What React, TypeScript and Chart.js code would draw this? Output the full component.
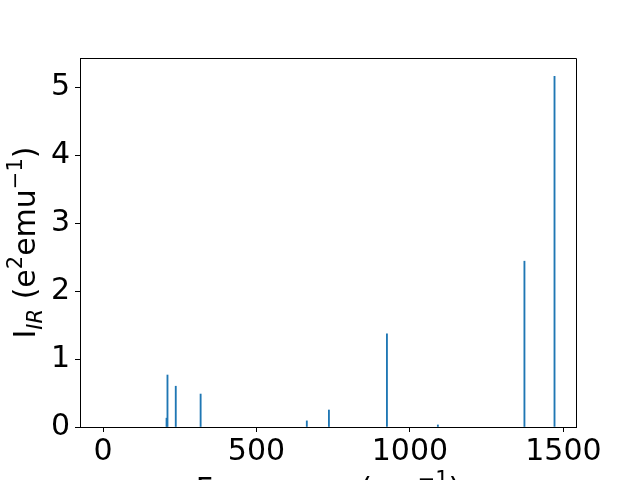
import React, { useEffect, useRef } from "react";
import { Chart, registerables } from "chart.js";
Chart.register(...registerables);

const frequencies = [207, 210, 237, 318, 664, 736, 925, 1091, 1373, 1471];
const intensities = [0.13, 0.765, 0.6, 0.485, 0.09, 0.25, 1.37, 0.03, 2.44, 5.16];
const xTicks = [0, 500, 1000, 1500];
const yTicks = [0, 1, 2, 3, 4, 5];
const xRange = [-75, 1541];
const yRange = [0, 5.43];

type Run = { text: string; pos: "n" | "sub" | "sup"; italic?: boolean };
const xLabelRuns: Run[] = [
  { text: "Frequency (cm", pos: "n" },
  { text: "\u22121", pos: "sup" },
  { text: ")", pos: "n" },
];
const yLabelRuns: Run[] = [
  { text: "I", pos: "n" },
  { text: "IR", pos: "sub", italic: true },
  { text: " (e", pos: "n" },
  { text: "2", pos: "sup" },
  { text: "emu", pos: "n" },
  { text: "\u22121", pos: "sup" },
  { text: ")", pos: "n" },
];

const FONT = '"DejaVu Sans", sans-serif';

function drawRuns(ctx: CanvasRenderingContext2D, runs: Run[], cx: number, cy: number, rot: number, size: number) {
  ctx.save();
  ctx.translate(cx, cy);
  ctx.rotate(rot);
  ctx.textBaseline = "alphabetic";
  ctx.textAlign = "left";
  ctx.fillStyle = "#000";
  const items = runs.map((r) => {
    const s = r.pos === "n" ? size : size * 0.7;
    const font = `${r.italic ? "italic " : ""}${s}px ${FONT}`;
    ctx.font = font;
    const w = ctx.measureText(r.text).width;
    const dy = r.pos === "sub" ? size * 0.22 : r.pos === "sup" ? -size * 0.42 : 0;
    return { font, w, dy, text: r.text };
  });
  const total = items.reduce((a, b) => a + b.w, 0);
  let x = -total / 2;
  for (const it of items) {
    ctx.font = it.font;
    ctx.fillText(it.text, x, it.dy);
    x += it.w;
  }
  ctx.restore();
}

const labelPlugin = {
  id: "axisLabels",
  afterDraw(chart: any) {
    const ctx = chart.ctx as CanvasRenderingContext2D;
    const a = chart.chartArea;
    drawRuns(ctx, xLabelRuns, (a.left + a.right) / 2, 499, 0, 30);
    drawRuns(ctx, yLabelRuns, 35, (a.top + a.bottom) / 2, -Math.PI / 2, 30);
  },
};

export default function App() {
  const ref = useRef<HTMLCanvasElement | null>(null);
  useEffect(() => {
    document.body.style.margin = "0";
    const canvas = ref.current!;
    const chart = new Chart(canvas, {
      type: "bar",
      data: {
        datasets: [
          {
            data: frequencies.map((f, i) => ({ x: f, y: intensities[i] })),
            backgroundColor: "#1f77b4",
            borderWidth: 0,
            barThickness: 1.2,
          },
        ],
      },
      options: {
        animation: false,
        responsive: false,
        devicePixelRatio: 1,
        layout: { padding: { top: 58, right: 64, left: 0, bottom: 0 } },
        plugins: { legend: { display: false }, tooltip: { enabled: false } },
        scales: {
          x: {
            type: "linear",
            min: xRange[0],
            max: xRange[1],
            offset: false,
            grid: { offset: false, drawOnChartArea: false, drawTicks: true, tickLength: 5, tickColor: "#000", tickWidth: 1 },
            border: { color: "#000", width: 1 },
            ticks: {
              color: "#000",
              font: { family: FONT, size: 30 },
              padding: 2,
              maxRotation: 0,
              autoSkip: false,
              callback: (v: any) => String(v),
            },
            afterBuildTicks: (axis: any) => {
              axis.ticks = xTicks.map((v) => ({ value: v }));
            },
            afterFit: (s: any) => {
              s.height = 53;
              s.paddingLeft = 0;
              s.paddingRight = 0;
              s.paddingTop = 0;
              s.paddingBottom = 0;
            },
          },
          y: {
            type: "linear",
            min: yRange[0],
            max: yRange[1],
            grid: { offset: false, drawOnChartArea: false, drawTicks: true, tickLength: 5, tickColor: "#000", tickWidth: 1 },
            border: { color: "#000", width: 1 },
            ticks: {
              color: "#000",
              font: { family: FONT, size: 30 },
              padding: 5,
              autoSkip: false,
              callback: (v: any) => String(v),
            },
            afterBuildTicks: (axis: any) => {
              axis.ticks = yTicks.map((v) => ({ value: v }));
            },
            afterFit: (s: any) => {
              s.width = 80;
              s.paddingLeft = 0;
              s.paddingRight = 0;
              s.paddingTop = 0;
              s.paddingBottom = 0;
            },
          },
        },
      },
      plugins: [
        labelPlugin,
        {
          id: "frame",
          afterDraw(chart: any) {
            const c = chart.ctx;
            const a = chart.chartArea;
            c.save();
            c.strokeStyle = "#000";
            c.lineWidth = 1;
            c.beginPath();
            c.moveTo(a.left, a.top + 0.5);
            c.lineTo(a.right + 0.5, a.top + 0.5);
            c.lineTo(a.right + 0.5, a.bottom);
            c.stroke();
            c.restore();
          },
        },
      ],
    } as any);
    return () => chart.destroy();
  }, []);
  return (
    <div style={{ position: "fixed", left: 0, top: 0, width: 640, height: 480, background: "#fff" }}>
      <canvas ref={ref} width={640} height={480} />
    </div>
  );
}
